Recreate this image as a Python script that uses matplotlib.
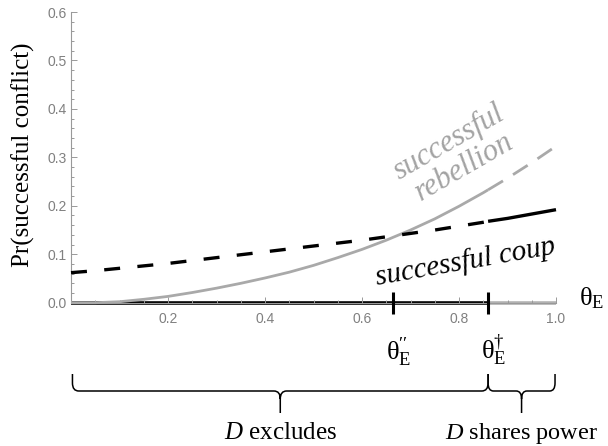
import numpy as np
import matplotlib
matplotlib.use("Agg")
import matplotlib.pyplot as plt
from matplotlib.path import Path
from matplotlib.patches import PathPatch
from matplotlib.ticker import MultipleLocator, FixedLocator
from matplotlib.transforms import blended_transform_factory

plt.rcParams["mathtext.fontset"] = "custom"
plt.rcParams["mathtext.rm"] = "Liberation Serif"
plt.rcParams["mathtext.it"] = "Liberation Serif:italic"
plt.rcParams["mathtext.bf"] = "Liberation Serif:bold"

# ---- data -------------------------------------------------------------
theta = [0.00, 0.05, 0.10, 0.15, 0.20, 0.25, 0.30, 0.35, 0.40, 0.45, 0.50,
         0.55, 0.60, 0.65, 0.70, 0.75, 0.80, 0.85, 0.86, 0.90, 0.95, 1.00]
p_rebellion = [0.000, 0.000, 0.002, 0.007, 0.013, 0.021, 0.030, 0.040, 0.051,
               0.063, 0.077, 0.093, 0.110, 0.129, 0.150, 0.173, 0.199, 0.227,
               0.233, 0.257, 0.289, 0.323]
p_coup = [0.062, 0.066, 0.071, 0.076, 0.081, 0.087, 0.093, 0.099, 0.105,
          0.111, 0.117, 0.123, 0.129, 0.136, 0.143, 0.150, 0.158, 0.166,
          0.168, 0.174, 0.183, 0.192]
theta_dd = 0.664     # theta''_E : curves cross
theta_dag = 0.86     # theta^dagger_E : D starts sharing power

x_major = [0.2, 0.4, 0.6, 0.8, 1.0]
x_labels = ["0.2", "0.4", "0.6", "0.8", "1.0"]
y_major = [0.0, 0.1, 0.2, 0.3, 0.4, 0.5, 0.6]
y_labels = ["0.0", "0.1", "0.2", "0.3", "0.4", "0.5", "0.6"]

# ---- figure -----------------------------------------------------------
W, H = 608, 446
fig = plt.figure(figsize=(W / 100, H / 100), dpi=100)
ax = fig.add_axes([71 / W, 143.3 / H, 485 / W, 290.7 / H])
ax.set_xlim(0, 1)
ax.set_ylim(0, 0.6)
ax.set_axisbelow(False)

axis_grey = "#999999"
tick_grey = "#808080"
for side in ("top", "right"):
    ax.spines[side].set_visible(False)
for side in ("left", "bottom"):
    ax.spines[side].set_color(axis_grey)
    ax.spines[side].set_linewidth(0.8)

ax.xaxis.set_major_locator(FixedLocator(x_major))
ax.set_xticklabels(x_labels)
ax.xaxis.set_minor_locator(MultipleLocator(0.05))
ax.yaxis.set_major_locator(FixedLocator(y_major))
ax.set_yticklabels(y_labels)
ax.yaxis.set_minor_locator(MultipleLocator(0.02))
ax.tick_params(which="both", direction="in", color=axis_grey, width=0.7,
               labelcolor=tick_grey, labelsize=10)
ax.tick_params(which="major", length=4)
ax.tick_params(which="minor", length=2.3)
ax.tick_params(axis="x", which="major", pad=7)
ax.tick_params(axis="y", which="major", pad=3)
for lab in ax.get_xticklabels() + ax.get_yticklabels():
    lab.set_family("Liberation Sans")

th = np.array(theta)
reb = np.array(p_rebellion)
cp = np.array(p_coup)
lo = th <= theta_dag + 1e-9
hi = th >= theta_dag - 1e-9

# regime bar along the horizontal axis
ax.plot([0, theta_dag], [0, 0], color="black", lw=2.6, solid_capstyle="butt",
        zorder=2, clip_on=False)
ax.plot([theta_dag, 1.0], [0, 0], color="#b3b3b3", lw=2.6,
        solid_capstyle="butt", zorder=2, clip_on=False)

# rebellion: solid where D excludes, dashed where D shares power
grey = "#a9a9a9"
lw_g = 2.0
ax.plot(th[lo], reb[lo], color=grey, lw=lw_g, zorder=3, clip_on=False,
        solid_capstyle="butt")
ax.plot(th[hi], reb[hi], color=grey, lw=lw_g, zorder=3, clip_on=False,
        dashes=(12.5 / lw_g, 8.5 / lw_g), dash_capstyle="butt")

# coup: dashed where D excludes, solid where D shares power
lw_k = 2.4
ax.plot(th[lo], cp[lo], color="black", lw=lw_k, zorder=4, clip_on=False,
        dashes=(11.5 / lw_k, 12.5 / lw_k), dash_capstyle="butt")
ax.plot(th[hi], cp[hi], color="black", lw=lw_k, zorder=4, clip_on=False,
        solid_capstyle="butt")

# threshold markers
for t in (theta_dd, theta_dag):
    ax.plot([t, t], [-0.023, 0.023], color="black", lw=2.2, zorder=5,
            clip_on=False, solid_capstyle="butt")

serif = "Liberation Serif"
ax.text(1.047, -0.005, r"$\mathrm{θ}_{\mathrm{E}}$", fontsize=19,
        family=serif, ha="left", va="baseline", zorder=6, clip_on=False)
ax.text(theta_dd + 0.012, -0.118, r"$\mathrm{θ}_{\mathrm{E}}^{\prime\prime}$",
        fontsize=19, family=serif, ha="center", va="baseline", clip_on=False)
ax.text(theta_dag + 0.012, -0.118, r"$\mathrm{θ}_{\mathrm{E}}^{\dagger}$",
        fontsize=19, family=serif, ha="center", va="baseline", clip_on=False)

# curve labels
ax.text(0.795, 0.305, "successful\nrebellion", fontsize=22, family=serif,
        style="italic", color="#a3a3a3", rotation=30, rotation_mode="anchor",
        ha="center", va="center", linespacing=1.0, multialignment="center")
ax.text(0.814, 0.084, "successful coup", fontsize=21, family=serif,
        style="italic", color="black", rotation=10, rotation_mode="anchor",
        ha="center", va="center")

fig.text(23 / W, 1 - 155 / H, "Pr(successful conflict)", fontsize=18,
         family=serif, rotation=90, ha="center", va="center")


# ---- braces under the axis ------------------------------------------
bt = blended_transform_factory(ax.transData, fig.transFigure)


def brace(x0, x1, ytop, ymid, ybot, rx=0.013, ry=8 / H):
    xc = 0.5 * (x0 + x1)
    verts = [(x0, ytop), (x0, ymid + ry), (x0, ymid), (x0 + rx, ymid),
             (xc - rx, ymid), (xc, ymid), (xc, ymid - ry), (xc, ybot),
             (xc, ymid - ry), (xc, ymid), (xc + rx, ymid),
             (x1 - rx, ymid), (x1, ymid), (x1, ymid + ry), (x1, ytop)]
    codes = [Path.MOVETO, Path.LINETO, Path.CURVE3, Path.CURVE3,
             Path.LINETO, Path.CURVE3, Path.CURVE3, Path.LINETO,
             Path.MOVETO, Path.CURVE3, Path.CURVE3,
             Path.LINETO, Path.CURVE3, Path.CURVE3, Path.LINETO]
    patch = PathPatch(Path(verts, codes), transform=bt, fill=False,
                      edgecolor="black", lw=1.1, clip_on=False)
    fig.add_artist(patch)
    return xc


y_top, y_mid, y_bot = 1 - 374 / H, 1 - 391 / H, 1 - 413 / H
xc1 = brace(0.003, theta_dag, y_top, y_mid, y_bot)
xc2 = brace(theta_dag, 0.998, y_top, y_mid, y_bot, rx=0.011)

y_lab = 1 - 439 / H
fig.text(xc1, y_lab, r"$D$ excludes", fontsize=18, family=serif,
         ha="center", va="baseline", transform=bt)
fig.text(xc2 - 0.001, y_lab, r"$D$ shares power", fontsize=17.5,
         family=serif, ha="center", va="baseline", transform=bt)

fig.savefig("out.png", dpi=100)
